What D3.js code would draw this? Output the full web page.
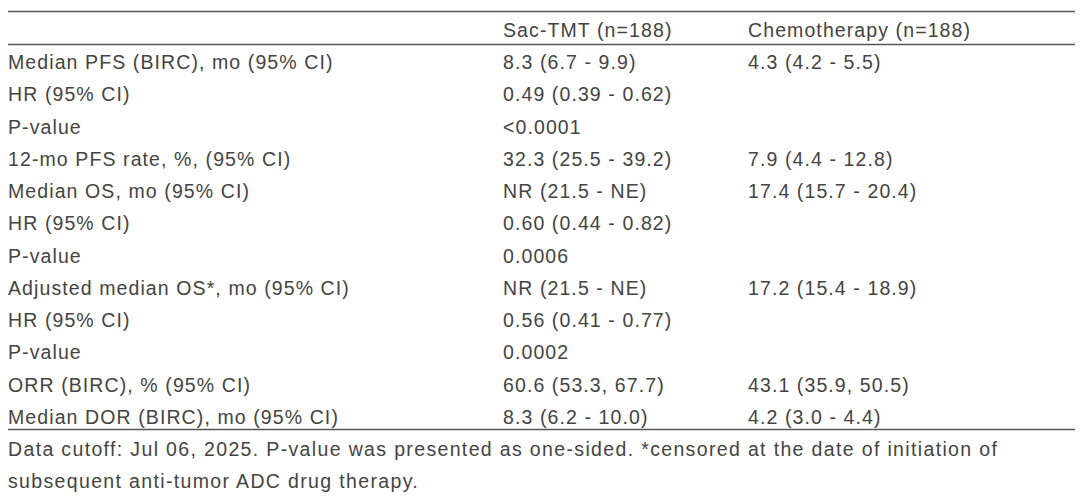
<!DOCTYPE html><html><head><meta charset="utf-8"><script src="https://cdn.jsdelivr.net/npm/d3@7"></script>
<style>body{margin:0;background:#fff}</style></head><body><svg id="c" width="1080" height="499"></svg>
<script>
const headers = ["", "Sac-TMT (n=188)", "Chemotherapy (n=188)"];
const rowLabels = ["Median PFS (BIRC), mo (95% CI)","HR (95% CI)","P-value","12-mo PFS rate, %, (95% CI)","Median OS, mo (95% CI)","HR (95% CI)","P-value","Adjusted median OS*, mo (95% CI)","HR (95% CI)","P-value","ORR (BIRC), % (95% CI)","Median DOR (BIRC), mo (95% CI)"];
const sacValues = ["8.3 (6.7 - 9.9)","0.49 (0.39 - 0.62)","<0.0001","32.3 (25.5 - 39.2)","NR (21.5 - NE)","0.60 (0.44 - 0.82)","0.0006","NR (21.5 - NE)","0.56 (0.41 - 0.77)","0.0002","60.6 (53.3, 67.7)","8.3 (6.2 - 10.0)"];
const chemoValues = ["4.3 (4.2 - 5.5)","","","7.9 (4.4 - 12.8)","17.4 (15.7 - 20.4)","","","17.2 (15.4 - 18.9)","","","43.1 (35.9, 50.5)","4.2 (3.0 - 4.4)"];
const footnotes = ["Data cutoff: Jul 06, 2025. P-value was presented as one-sided. *censored at the date of initiation of","subsequent anti-tumor ADC drug therapy."];

const svg = d3.select("#c");
const font = "'Liberation Sans', Arial, sans-serif";
const col = d3.scaleOrdinal().domain([0,1,2]).range([8,503,748]);
const y = d3.scalePoint().domain(d3.range(rowLabels.length)).range([69,424]);
const color = "#444";
function txt(x,yy,s,ls){svg.append("text").attr("x",x).attr("y",yy).attr("font-family",font).attr("font-size",19.5).attr("letter-spacing",ls||1.1).attr("fill",color).text(s);}
[11,44,429].forEach(v=>svg.append("line").attr("x1",8).attr("x2",1075).attr("y1",v+0.5).attr("y2",v+0.5).attr("stroke","#555").attr("stroke-width",1.3));
headers.forEach((h,i)=>txt(col(i),37,h));
rowLabels.forEach((r,i)=>{txt(col(0),y(i),r);txt(col(1),y(i),sacValues[i]);txt(col(2),y(i),chemoValues[i]);});
footnotes.forEach((f,i)=>txt(8,456+i*32,f,1.35));
</script></body></html>
